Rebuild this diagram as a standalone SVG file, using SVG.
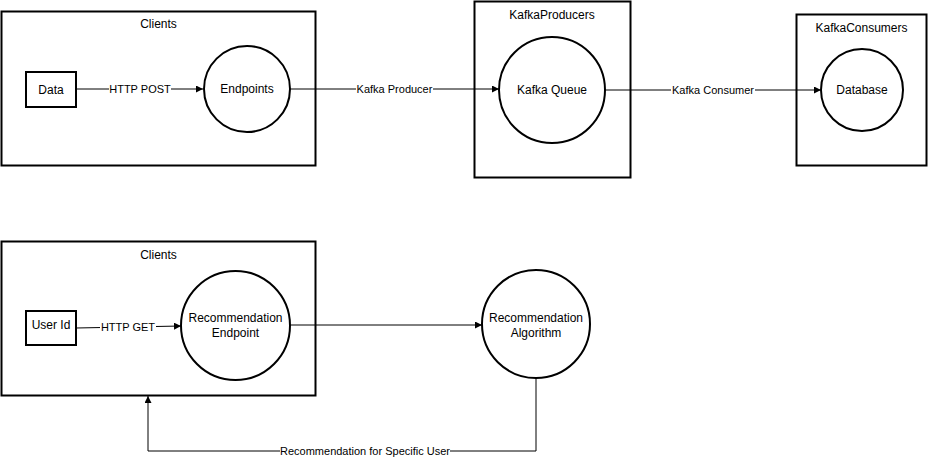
<svg xmlns="http://www.w3.org/2000/svg" width="928" height="460" viewBox="0 0 928 460">
<style>
.box{fill:#fff;stroke:#000;stroke-width:2}
.node{fill:#fff;stroke:#000;stroke-width:2}
.t{font-family:"Liberation Sans",Arial,sans-serif;font-size:12px;fill:#000;text-anchor:middle}
.lbl{font-family:"Liberation Sans",Arial,sans-serif;font-size:11px;fill:#000;text-anchor:middle}
.edge{fill:none;stroke:#000;stroke-width:1}
.lblbg{fill:#fff}
</style>
<defs>
<marker id="arr" viewBox="0 0 10 10" refX="10" refY="5" markerWidth="7" markerHeight="7" markerUnits="userSpaceOnUse" orient="auto">
<path d="M0,0 L10,5 L0,10 z" fill="#000"/>
</marker>
</defs>
<g id="clients-top"><rect class="box" x="1.5" y="11.5" width="314" height="154"/><text class="t" x="158.5" y="28">Clients</text></g>
<g id="kafka-producers"><rect class="box" x="474.5" y="1.5" width="156" height="176"/><text class="t" x="552" y="19">KafkaProducers</text></g>
<g id="kafka-consumers"><rect class="box" x="796.5" y="14.5" width="130" height="151"/><text class="t" x="861.5" y="32">KafkaConsumers</text></g>
<g id="clients-bottom"><rect class="box" x="1.5" y="241.5" width="314" height="154"/><text class="t" x="158.5" y="259">Clients</text></g>
<g id="connectors">
<line class="edge" x1="76" y1="89" x2="203" y2="89" marker-end="url(#arr)"/>
<line class="edge" x1="290" y1="89" x2="499" y2="89" marker-end="url(#arr)"/>
<line class="edge" x1="605" y1="90" x2="821" y2="90" marker-end="url(#arr)"/>
<line class="edge" x1="76" y1="328" x2="181" y2="326" marker-end="url(#arr)"/>
<line class="edge" x1="290" y1="325" x2="482" y2="325" marker-end="url(#arr)"/>
<path class="edge" d="M536 378 V451 H148 V396" marker-end="url(#arr)"/>
<rect class="lblbg" x="109" y="82" width="62" height="14"/><text class="lbl" x="140" y="93">HTTP POST</text>
<rect class="lblbg" x="356" y="82" width="77" height="14"/><text class="lbl" x="394.5" y="93">Kafka Producer</text>
<rect class="lblbg" x="671" y="83" width="84" height="14"/><text class="lbl" x="713" y="94">Kafka Consumer</text>
<rect class="lblbg" x="100" y="320" width="56" height="14"/><text class="lbl" x="128" y="331">HTTP GET</text>
<rect class="lblbg" x="280" y="444" width="170" height="14"/><text class="lbl" x="365" y="455">Recommendation for Specific User</text>
</g>
<g id="data"><rect class="node" x="26" y="72" width="50" height="35"/><text class="t" x="51" y="93.5">Data</text></g>
<g id="endpoints"><circle class="node" cx="247" cy="89" r="43"/><text class="t" x="247" y="93">Endpoints</text></g>
<g id="kafka-queue"><circle class="node" cx="552" cy="90" r="53"/><text class="t" x="552" y="94">Kafka Queue</text></g>
<g id="database"><circle class="node" cx="862" cy="90" r="41"/><text class="t" x="862" y="94">Database</text></g>
<g id="user-id"><rect class="node" x="26" y="311" width="50" height="34"/><text class="t" x="51" y="329">User Id</text></g>
<g id="rec-endpoint"><circle class="node" cx="235.5" cy="325.5" r="54.5"/><text class="t" x="235.5" y="322">Recommendation</text><text class="t" x="235.5" y="337">Endpoint</text></g>
<g id="rec-algorithm"><circle class="node" cx="536" cy="324" r="54"/><text class="t" x="536" y="322">Recommendation</text><text class="t" x="536" y="337">Algorithm</text></g>
</svg>
